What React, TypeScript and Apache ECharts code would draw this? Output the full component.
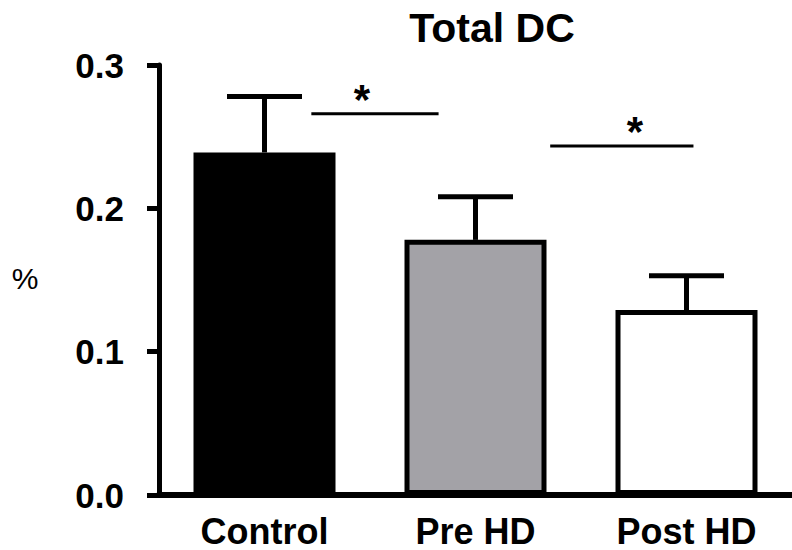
import React, { useEffect, useRef } from "react";
import * as echarts from "echarts";

// Groups and their measured means with the upper end of each error bar
const categories = ["Control", "Pre HD", "Post HD"];
const means = [0.239, 0.178, 0.129];
const upperErrors = [0.278, 0.208, 0.153];
const barColors = ["#000000", "#a3a2a7", "#ffffff"];

// Y axis ticks
const yTicks = [0, 0.1, 0.2, 0.3];

// Significance brackets: start / end on the group scale, height in data units, star position
const sigStart = [0.222, 1.354];
const sigEnd = [0.825, 2.033];
const sigLevel = [0.266, 0.2435];
const sigStarX = [0.462, 1.755];
const sigMarks = ["*", "*"];

const FONT = "Liberation Sans, Arial, Helvetica, sans-serif";

export default function App() {
  const ref = useRef<HTMLDivElement>(null);

  useEffect(() => {
    if (!ref.current) return;
    document.body.style.margin = "0";
    const chart = echarts.init(ref.current, null, { renderer: "svg" });

    const errorData = categories.map((_, i) => [i, means[i], upperErrors[i]]);
    const sigData = sigStart.map((s, i) => [s, sigEnd[i], sigLevel[i], sigStarX[i]]);

    chart.setOption({
      animation: false,
      backgroundColor: "#ffffff",
      grid: { left: 159, top: 65, width: 636, height: 430, containLabel: false },
      graphic: [
        {
          type: "text",
          x: 492,
          y: 28,
          style: {
            text: "Total DC",
            font: `bold 41px ${FONT}`,
            fill: "#000",
            textAlign: "center",
            textVerticalAlign: "middle",
          },
        },
        {
          type: "text",
          x: 25,
          y: 278,
          style: {
            text: "%",
            font: `30px ${FONT}`,
            fill: "#000",
            textAlign: "center",
            textVerticalAlign: "middle",
          },
        },
      ],
      xAxis: [
        {
          type: "category",
          data: categories,
          axisLine: { onZero: false, lineStyle: { color: "#000", width: 6 } },
          axisTick: { alignWithLabel: true, length: 11, lineStyle: { color: "#000", width: 5 } },
          axisLabel: {
            color: "#000",
            fontFamily: FONT,
            fontWeight: "bold",
            fontSize: 36,
            margin: 18,
          },
          splitLine: { show: false },
        },
        {
          type: "value",
          min: -0.5,
          max: 2.5,
          show: false,
        },
      ],
      yAxis: {
        type: "value",
        min: 0,
        max: 0.3,
        interval: 0.1,
        axisLine: { show: true, onZero: false, lineStyle: { color: "#000", width: 5 } },
        axisTick: { show: true, length: 12, lineStyle: { color: "#000", width: 5 } },
        axisLabel: {
          color: "#000",
          fontFamily: FONT,
          fontWeight: "bold",
          fontSize: 35,
          margin: 35,
          padding: [9, 0, 0, 0],
          formatter: (v: number) => (yTicks.some((t) => Math.abs(t - v) < 1e-9) ? v.toFixed(1) : ""),
        },
        splitLine: { show: false },
      },
      series: [
        {
          type: "bar",
          xAxisIndex: 0,
          barWidth: 142,
          data: means.map((v, i) => ({
            value: v,
            itemStyle: { color: barColors[i], borderColor: "#000", borderWidth: 5 },
          })),
          z: 2,
        },
        {
          type: "custom",
          xAxisIndex: 0,
          data: errorData,
          z: 3,
          renderItem: (params: any, api: any) => {
            const base = api.coord([api.value(0), api.value(1)]);
            const top = api.coord([api.value(0), api.value(2)]);
            const half = 37.5;
            return {
              type: "group",
              children: [
                {
                  type: "line",
                  shape: { x1: base[0], y1: base[1], x2: top[0], y2: top[1] },
                  style: { stroke: "#000", lineWidth: 5 },
                },
                {
                  type: "line",
                  shape: { x1: top[0] - half, y1: top[1], x2: top[0] + half, y2: top[1] },
                  style: { stroke: "#000", lineWidth: 5 },
                },
              ],
            };
          },
        },
        {
          type: "custom",
          xAxisIndex: 1,
          data: sigData,
          z: 3,
          renderItem: (params: any, api: any) => {
            const a = api.coord([api.value(0), api.value(2)]);
            const b = api.coord([api.value(1), api.value(2)]);
            const s = api.coord([api.value(3), api.value(2)]);
            return {
              type: "group",
              children: [
                {
                  type: "line",
                  shape: { x1: a[0], y1: a[1], x2: b[0], y2: b[1] },
                  style: { stroke: "#000", lineWidth: 3 },
                },
                {
                  type: "text",
                  x: s[0],
                  y: s[1] - 14,
                  style: {
                    text: sigMarks[params.dataIndex],
                    font: `bold 42px ${FONT}`,
                    fill: "#000",
                    textAlign: "center",
                    textVerticalAlign: "middle",
                  },
                },
              ],
            };
          },
        },
      ],
    });

    return () => chart.dispose();
  }, []);

  return <div ref={ref} style={{ width: 792, height: 550 }} />;
}
